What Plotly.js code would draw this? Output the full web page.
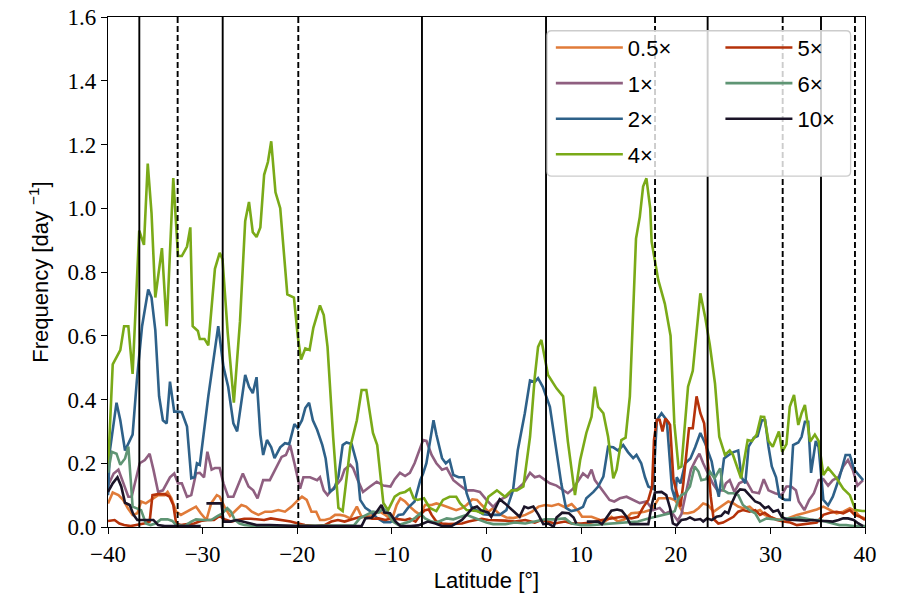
<!DOCTYPE html>
<html>
<head>
<meta charset="utf-8">
<script src="https://cdn.plot.ly/plotly-3.0.1.min.js"></script>
<style>html,body{margin:0;padding:0;background:#fff}#chart{width:900px;height:600px}</style>
</head>
<body>
<div id="chart"></div>
<script>
// ---- data ----
const seriesNames = ["0.5\u00d7", "1\u00d7", "2\u00d7", "4\u00d7", "5\u00d7", "6\u00d7", "10\u00d7"];

const lat05 = [-40.0,-39.5,-38.9,-38.4,-37.9,-37.4,-36.9,-36.5,-36.0,-35.5,-34.7,-34.0,-33.7,-33.3,-32.8,-32.3,-31.7,-31.2,-30.7,-30.2,-29.6,-29.1,-28.5,-28.2,-27.7,-27.1,-26.6,-25.9,-25.4,-24.8,-24.1,-23.4,-22.7,-22.0,-21.3,-20.6,-19.9,-19.5,-19.0,-18.5,-18.0,-17.6,-17.1,-16.5,-16.0,-15.5,-15.0,-14.4,-13.7,-13.2,-12.7,-12.0,-11.3,-10.7,-10.0,-9.5,-9.1,-8.6,-8.1,-7.5,-7.0,-6.5,-5.8,-5.3,-4.7,-4.2,-3.7,-3.2,-2.6,-2.1,-1.5,-1.0,-0.5,0.2,0.7,1.4,2.1,2.8,3.5,4.1,4.8,5.5,6.2,6.9,7.6,8.3,9.0,9.7,10.1,11.1,12.0,12.5,13.2,13.9,14.6,15.3,16.0,16.7,17.5,18.2,18.9,19.4,19.9,20.4,20.8,21.3,21.9,22.4,22.9,23.4,24.0,24.5,25.0,25.55,26.1,26.6,27.1,27.8,28.4,28.9,29.4,30.0,30.7,31.4,32.1,32.8,33.5,34.2,34.9,35.6,36.3,37.0,37.7,38.4,38.9,39.5,40.0];
const freq05 = [0.074,0.108,0.1,0.085,0.059,0.038,0.043,0.08,0.074,0.085,0.1,0.1,0.11,0.09,0.048,0.038,0.048,0.055,0.064,0.043,0.022,0.074,0.1,0.095,0.064,0.035,0.048,0.069,0.064,0.048,0.038,0.048,0.048,0.053,0.048,0.064,0.085,0.095,0.085,0.048,0.048,0.022,0.022,0.027,0.038,0.038,0.035,0.027,0.064,0.032,0.032,0.038,0.048,0.038,0.022,0.069,0.09,0.08,0.064,0.048,0.038,0.069,0.069,0.074,0.069,0.064,0.059,0.053,0.059,0.069,0.087,0.085,0.069,0.048,0.059,0.04,0.03,0.028,0.032,0.038,0.048,0.064,0.069,0.066,0.072,0.062,0.072,0.05,0.032,0.032,0.022,0.017,0.032,0.017,0.024,0.043,0.045,0.048,0.055,0.09,0.09,0.09,0.085,0.064,0.043,0.043,0.048,0.059,0.074,0.069,0.048,0.059,0.069,0.08,0.074,0.064,0.059,0.064,0.048,0.053,0.038,0.032,0.024,0.022,0.03,0.038,0.043,0.048,0.055,0.064,0.053,0.043,0.048,0.059,0.051,0.032,0.027];

const lat1 = [-40.0,-39.4,-38.9,-38.4,-37.85,-37.5,-37.15,-36.65,-36.1,-35.6,-35.2,-34.7,-34.2,-33.45,-33.0,-32.6,-32.2,-31.65,-31.2,-30.7,-30.3,-29.85,-29.5,-29.05,-28.7,-28.2,-27.8,-27.3,-26.75,-26.2,-25.75,-25.15,-24.65,-24.2,-23.6,-22.9,-22.35,-21.65,-21.2,-20.75,-20.3,-19.7,-19.35,-18.65,-17.9,-17.6,-17.2,-16.8,-16.4,-15.9,-15.35,-15.0,-14.4,-14.1,-13.6,-13.05,-12.3,-11.6,-10.9,-10.15,-9.7,-9.15,-8.6,-8.1,-7.6,-7.0,-6.7,-6.35,-5.8,-5.3,-4.7,-4.2,-3.5,-2.8,-2.1,-1.4,-0.7,0.0,0.7,1.4,2.1,2.8,3.3,3.9,4.6,5.1,5.6,6.2,6.7,7.4,8.1,8.6,9.15,9.7,10.2,10.7,11.1,11.45,11.95,12.5,13.0,13.5,14.1,14.8,15.5,16.2,16.9,17.6,18.3,18.85,19.5,20.2,20.6,21.1,21.6,22.1,22.5,22.9,23.4,23.9,24.4,25.0,25.3,25.7,26.2,26.7,27.4,28.1,28.8,29.3,29.8,30.5,31.2,31.7,32.2,32.7,33.0,33.6,34.1,34.6,35.1,35.6,36.1,36.6,37.2,37.7,38.2,38.7,39.2,39.8];
const freq1 = [0.13,0.168,0.18,0.14,0.095,0.095,0.14,0.2,0.21,0.23,0.18,0.11,0.115,0.156,0.168,0.137,0.137,0.095,0.1,0.168,0.17,0.156,0.236,0.18,0.185,0.185,0.137,0.095,0.095,0.137,0.168,0.127,0.115,0.09,0.147,0.147,0.18,0.22,0.226,0.257,0.2,0.12,0.156,0.156,0.147,0.156,0.115,0.1,0.115,0.13,0.15,0.18,0.195,0.185,0.147,0.11,0.127,0.142,0.13,0.127,0.15,0.17,0.16,0.17,0.2,0.25,0.273,0.27,0.226,0.2,0.18,0.185,0.147,0.13,0.115,0.115,0.11,0.085,0.063,0.085,0.095,0.115,0.12,0.137,0.17,0.156,0.16,0.147,0.137,0.13,0.115,0.106,0.12,0.147,0.168,0.156,0.18,0.147,0.127,0.106,0.085,0.08,0.09,0.095,0.085,0.075,0.08,0.053,0.06,0.042,0.05,0.02,0.04,0.115,0.18,0.21,0.23,0.2,0.168,0.137,0.115,0.115,0.137,0.147,0.11,0.137,0.147,0.11,0.106,0.15,0.115,0.106,0.1,0.127,0.127,0.115,0.08,0.053,0.085,0.106,0.147,0.15,0.13,0.147,0.156,0.19,0.21,0.18,0.13,0.147];

const lat2 = [-40.0,-39.8,-39.1,-38.7,-38.2,-37.85,-37.4,-36.95,-36.4,-35.75,-35.4,-35.0,-34.6,-34.2,-33.8,-33.45,-33.0,-32.6,-32.2,-31.65,-31.2,-30.85,-30.6,-30.3,-29.4,-28.35,-27.8,-27.3,-26.75,-26.35,-25.5,-25.1,-24.7,-24.3,-23.9,-23.6,-23.2,-22.75,-22.4,-21.8,-21.3,-20.85,-20.3,-19.95,-19.5,-19.15,-18.75,-18.35,-17.9,-17.35,-17.0,-16.55,-16.1,-15.65,-15.2,-14.8,-14.25,-13.7,-13.35,-12.8,-12.3,-11.55,-10.85,-10.15,-9.7,-9.3,-8.8,-8.3,-7.6,-7.0,-6.7,-6.35,-6.0,-5.6,-5.3,-4.7,-4.3,-3.9,-3.5,-2.95,-2.4,-2.1,-1.6,-1.05,-0.35,0.35,1.4,2.1,2.8,3.3,4.05,4.6,5.1,5.45,5.95,6.7,7.2,7.9,8.4,8.95,9.5,10.2,10.55,11.3,11.8,12.35,12.85,13.4,13.9,14.45,14.95,15.5,15.85,16.35,16.75,17.1,17.6,18.0,18.5,19.05,19.6,19.95,20.1,20.5,21.0,21.55,22.05,22.6,23.1,23.5,23.8,24.15,24.55,24.9,25.1,25.6,26.1,26.6,26.95,27.35,27.7,28.25,28.65,29.1,29.45,29.8,30.15,30.6,30.95,31.55,32.05,32.4,32.95,33.3,33.65,34.0,34.3,34.8,35.1,35.6,36.1,36.6,37.3,37.95,38.4,38.85,39.3,39.8];
const freq2 = [0.1,0.24,0.39,0.335,0.24,0.263,0.29,0.46,0.63,0.745,0.72,0.618,0.41,0.335,0.325,0.456,0.362,0.362,0.36,0.315,0.153,0.156,0.2,0.195,0.41,0.63,0.503,0.44,0.325,0.3,0.477,0.44,0.42,0.47,0.29,0.226,0.273,0.25,0.216,0.25,0.263,0.26,0.323,0.31,0.335,0.373,0.39,0.335,0.305,0.257,0.215,0.11,0.12,0.158,0.257,0.265,0.26,0.2,0.085,0.06,0.05,0.028,0.015,0.015,0.024,0.038,0.04,0.06,0.08,0.147,0.168,0.2,0.263,0.335,0.29,0.216,0.2,0.21,0.163,0.156,0.156,0.106,0.063,0.053,0.04,0.038,0.038,0.053,0.115,0.24,0.357,0.46,0.455,0.467,0.44,0.377,0.273,0.137,0.06,0.05,0.053,0.063,0.09,0.11,0.127,0.158,0.252,0.25,0.24,0.257,0.235,0.216,0.226,0.2,0.156,0.127,0.12,0.335,0.357,0.335,0.12,0.085,0.156,0.137,0.2,0.215,0.25,0.295,0.263,0.226,0.205,0.147,0.095,0.17,0.215,0.226,0.235,0.24,0.156,0.137,0.252,0.28,0.285,0.335,0.335,0.252,0.19,0.156,0.095,0.085,0.085,0.257,0.265,0.283,0.33,0.33,0.17,0.27,0.25,0.085,0.068,0.095,0.156,0.226,0.226,0.18,0.163,0.147];

const lat4 = [-40.0,-39.5,-38.7,-38.3,-37.85,-37.4,-36.7,-36.2,-35.8,-35.4,-35.0,-34.3,-33.8,-33.1,-32.6,-32.2,-31.65,-31.3,-31.05,-30.5,-30.3,-29.8,-29.4,-28.7,-28.2,-27.9,-27.35,-26.7,-26.05,-25.5,-25.1,-24.7,-24.3,-23.9,-23.5,-23.1,-22.75,-22.3,-21.8,-21.05,-20.35,-19.95,-19.6,-19.15,-18.7,-18.3,-17.6,-17.2,-16.8,-16.2,-15.65,-15.2,-14.4,-13.7,-13.2,-12.7,-12.0,-11.55,-10.9,-10.4,-9.7,-9.15,-8.6,-8.1,-7.7,-7.3,-6.6,-6.0,-5.3,-4.6,-3.9,-3.2,-2.8,-2.1,-1.05,-0.4,0.2,1.1,1.95,2.65,3.2,3.9,4.6,5.1,5.45,5.8,6.5,7.4,8.1,8.6,9.35,9.9,10.55,11.1,11.45,11.8,12.35,12.85,13.4,13.75,14.25,14.7,15.15,15.8,16.2,16.55,16.9,17.3,17.45,17.8,18.15,18.85,19.45,19.85,20.3,20.6,21.3,21.8,22.2,22.6,23.1,23.6,24.15,24.6,25.2,25.7,26.05,26.9,27.6,28.05,28.55,29.0,29.35,29.8,30.25,30.9,31.25,31.7,32.05,32.5,32.95,33.3,33.65,34.2,34.7,35.1,35.6,36.1,37.0,37.7,38.4,39.0,39.7,40.0];
const freq4 = [0.18,0.51,0.555,0.63,0.63,0.48,0.93,0.885,1.14,0.985,0.72,0.875,0.63,1.095,0.85,0.85,0.88,0.94,0.63,0.615,0.59,0.59,0.57,0.81,0.86,0.84,0.61,0.39,0.645,0.96,1.02,0.925,0.91,0.94,1.105,1.145,1.21,1.05,1.0,0.73,0.72,0.6,0.525,0.56,0.555,0.625,0.695,0.665,0.565,0.28,0.06,0.05,0.25,0.335,0.43,0.43,0.295,0.257,0.075,0.053,0.095,0.106,0.11,0.12,0.09,0.085,0.09,0.06,0.05,0.085,0.095,0.095,0.075,0.053,0.05,0.043,0.095,0.115,0.095,0.115,0.115,0.127,0.283,0.47,0.565,0.587,0.477,0.435,0.41,0.268,0.1,0.21,0.295,0.346,0.44,0.377,0.357,0.283,0.153,0.18,0.273,0.28,0.41,0.905,0.973,1.068,1.094,1.0,0.895,0.83,0.775,0.7,0.6,0.325,0.185,0.19,0.44,0.49,0.618,0.733,0.66,0.571,0.45,0.283,0.226,0.24,0.226,0.153,0.273,0.27,0.29,0.346,0.345,0.27,0.252,0.3,0.236,0.26,0.377,0.414,0.32,0.357,0.383,0.268,0.29,0.27,0.163,0.185,0.153,0.12,0.1,0.053,0.05,0.05];

const lat5 = [-40.0,-39.3,-38.8,-38.3,-37.6,-36.9,-36.2,-35.6,-35.3,-34.7,-34.0,-33.5,-33.1,-32.8,-32.3,-31.6,-30.9,-30.2,-29.5,-28.8,-28.2,-27.7,-27.0,-26.3,-25.6,-24.9,-24.2,-23.5,-22.8,-22.1,-21.4,-20.7,-19.9,-19.2,-18.1,-17.1,-16.4,-15.7,-15.0,-14.3,-13.6,-12.9,-12.1,-11.4,-10.7,-10.0,-9.3,-8.6,-8.1,-7.5,-7.0,-6.5,-6.1,-5.8,-5.3,-4.7,-4.0,-3.3,-2.6,-1.9,-1.2,-0.5,0.2,0.9,2.0,3.0,4.1,5.1,5.8,6.5,7.2,8.3,9.0,10.0,11.1,12.2,13.2,14.3,15.3,16.0,16.6,17.1,17.5,17.7,18.0,18.3,18.6,18.9,19.2,19.4,19.75,20.1,20.5,20.8,21.4,21.8,22.2,22.6,23.0,23.4,23.7,24.0,24.5,25.0,25.55,26.1,26.6,27.1,27.8,28.4,28.9,29.4,30.0,30.7,31.4,32.1,32.8,33.5,34.2,34.9,35.6,36.3,37.0,37.7,38.4,38.9,39.5,40.0];
const freq5 = [0.019,0.022,0.011,0.006,0.003,0.006,0.011,0.017,0.1,0.103,0.103,0.095,0.069,0.011,0.006,0.009,0.011,0.019,0.022,0.022,0.035,0.024,0.017,0.022,0.026,0.026,0.024,0.022,0.027,0.024,0.022,0.017,0.011,0.006,0.003,0.006,0.017,0.022,0.017,0.024,0.03,0.032,0.026,0.027,0.022,0.027,0.024,0.022,0.026,0.017,0.038,0.053,0.055,0.038,0.017,0.011,0.009,0.011,0.011,0.017,0.022,0.026,0.022,0.022,0.02,0.017,0.022,0.014,0.022,0.017,0.011,0.017,0.011,0.011,0.014,0.022,0.027,0.032,0.027,0.032,0.064,0.085,0.127,0.273,0.336,0.336,0.3,0.34,0.33,0.32,0.15,0.106,0.064,0.137,0.31,0.31,0.41,0.357,0.325,0.2,0.095,0.025,0.011,0.014,0.022,0.032,0.048,0.053,0.048,0.053,0.038,0.045,0.032,0.022,0.017,0.014,0.006,0.009,0.011,0.014,0.038,0.045,0.048,0.043,0.053,0.038,0.032,0.022];

const lat6 = [-40.0,-39.6,-39.1,-38.7,-38.2,-37.85,-37.4,-36.5,-36.0,-35.5,-35.0,-34.4,-33.7,-33.2,-32.8,-31.9,-31.2,-30.7,-29.8,-29.1,-28.4,-27.9,-27.4,-27.0,-26.6,-26.1,-25.6,-24.5,-22.0,-19.0,-16.0,-14.0,-13.4,-12.7,-12.0,-11.4,-10.9,-10.4,-9.9,-9.3,-8.6,-8.1,-7.5,-7.0,-6.5,-5.8,-5.3,-4.7,-4.2,-3.5,-2.8,-2.1,-1.4,-0.7,0.0,0.7,2.0,3.0,4.1,5.1,6.2,7.2,8.3,9.0,10.0,11.0,12.2,13.2,14.6,16.0,17.1,17.8,18.5,19.4,19.9,20.3,20.6,21.0,21.5,22.0,22.4,22.7,23.2,23.6,24.1,24.7,25.0,25.55,26.1,26.6,27.1,27.8,28.4,28.9,29.6,30.3,31.0,31.7,32.4,33.1,33.8,34.5,35.2,36.0,36.6,37.3,38.0,38.8,40.0];
const freq6 = [0.17,0.236,0.23,0.195,0.215,0.252,0.064,0.053,0.011,0.006,0.011,0.024,0.024,0.019,0.006,0.003,0.017,0.024,0.022,0.022,0.035,0.043,0.059,0.048,0.022,0.011,0.006,0.003,0.003,0.003,0.003,0.005,0.027,0.038,0.048,0.045,0.059,0.043,0.017,0.006,0.011,0.017,0.03,0.043,0.027,0.017,0.014,0.022,0.027,0.024,0.032,0.038,0.03,0.022,0.014,0.009,0.009,0.014,0.011,0.017,0.024,0.024,0.027,0.011,0.006,0.006,0.009,0.011,0.014,0.017,0.027,0.032,0.038,0.043,0.05,0.09,0.1,0.106,0.127,0.19,0.174,0.147,0.15,0.174,0.153,0.184,0.116,0.106,0.106,0.1,0.069,0.053,0.043,0.017,0.027,0.024,0.022,0.027,0.027,0.03,0.027,0.022,0.022,0.017,0.011,0.006,0.006,0.003,0.003];

const lat10 = [-40.0,-39.5,-39.0,-38.6,-38.2,-37.7,-37.3,-36.9,-36.3,-35.8,-35.2,-34.7,-34.0,-32.0,-30.2,-29.9,-29.6,-28.0,-27.8,-27.1,-26.4,-25.7,-25.0,-24.3,-22.9,-20.0,-17.0,-14.0,-13.2,-12.8,-12.1,-11.6,-11.1,-10.8,-10.2,-9.6,-9.1,-8.0,-7.2,-6.7,-6.2,-5.4,-4.7,-3.7,-2.6,-2.1,-1.5,-1.0,-0.6,-0.1,0.2,0.5,0.9,1.4,1.95,2.5,3.0,3.5,4.0,4.4,4.95,5.5,6.0,6.5,7.1,7.4,8.0,8.7,9.2,9.5,10.0,10.6,11.8,12.2,12.7,13.2,13.8,14.3,14.8,15.2,16.0,17.1,17.5,17.8,18.5,19.0,19.4,19.7,20.1,20.6,21.1,21.5,22.0,22.6,22.9,23.3,23.8,24.3,24.8,25.2,25.55,25.9,26.4,26.8,27.3,27.8,28.4,28.9,29.4,29.8,30.3,30.8,31.2,31.7,32.4,33.1,33.8,34.5,35.2,35.9,36.6,37.2,37.7,38.2,38.8,39.3,39.8];
const freq10 = [0.11,0.137,0.156,0.127,0.076,0.069,0.038,0.022,0.022,0.022,0.022,0.006,0.003,0.003,0.003,null,0.074,0.074,0.017,0.017,0.022,0.017,0.011,0.006,0.006,0.003,0.003,0.003,0.003,0.027,0.03,0.048,0.069,0.045,0.043,0.017,0.003,0.003,0.005,0.011,0.017,0.011,0.003,0.003,0.022,0.038,0.059,0.064,0.053,0.048,0.045,0.032,0.059,0.087,0.074,0.059,0.045,0.032,0.064,0.059,0.064,0.038,0.009,0.011,0.001,0.03,0.045,0.043,0.03,0.011,null,0.017,0.017,0.009,0.032,0.051,0.055,0.051,0.032,0.009,0.009,0.009,0.074,0.108,0.11,0.1,0.059,0.011,0.005,0.022,0.024,0.03,0.022,0.025,0.017,0.027,0.022,0.032,0.035,0.048,0.043,0.074,0.106,0.118,0.116,0.1,0.08,0.074,0.059,0.064,0.048,0.053,0.032,0.024,0.022,0.02,0.02,0.022,0.019,0.019,0.017,0.022,0.027,0.027,0.022,0.011,0.003];

// boundary latitudes marked by vertical lines
const solidLats = [-36.69, -27.88, -6.82, 6.29, 23.37, 35.35];
const dashedLats = [-32.64, -19.89, 17.81, 31.30, 38.94];

const colors = ["#e07b39", "#8f5f80", "#2e6189", "#7aaa18", "#b5320a", "#5f9574", "#1b1428"];
const latList = [lat05, lat1, lat2, lat4, lat5, lat6, lat10];
const freqList = [freq05, freq1, freq2, freq4, freq5, freq6, freq10];

const traces = seriesNames.map((name, i) => ({
  type: "scatter",
  mode: "lines",
  name: name,
  x: latList[i],
  y: freqList[i],
  line: {color: colors[i], width: 2.6},
  legend: i < 4 ? "legend" : "legend2",
  legendgroup: "g" + i,
  hoverinfo: "x+y+name"
}));

const shapes = [];
solidLats.forEach(v => shapes.push({type: "line", xref: "x", yref: "paper", x0: v, x1: v, y0: 0, y1: 1, layer: "above", line: {color: "#000", width: 1.9}}));
dashedLats.forEach(v => shapes.push({type: "line", xref: "x", yref: "paper", x0: v, x1: v, y0: 0, y1: 1, layer: "above", line: {color: "#000", width: 1.9, dash: "6px,3px"}}));

// legend frame with rounded corners (paper coordinates), drawn over data and boundary lines
const fx0 = 0.580, fx1 = 0.981, fy0 = 0.688, fy1 = 0.973, rx = 0.006, ry = 0.009;
const framePath = "M" + (fx0 + rx) + "," + fy1 + " L" + (fx1 - rx) + "," + fy1 +
  " Q" + fx1 + "," + fy1 + " " + fx1 + "," + (fy1 - ry) + " L" + fx1 + "," + (fy0 + ry) +
  " Q" + fx1 + "," + fy0 + " " + (fx1 - rx) + "," + fy0 + " L" + (fx0 + rx) + "," + fy0 +
  " Q" + fx0 + "," + fy0 + " " + fx0 + "," + (fy0 + ry) + " L" + fx0 + "," + (fy1 - ry) +
  " Q" + fx0 + "," + fy1 + " " + (fx0 + rx) + "," + fy1 + " Z";
shapes.push({type: "path", xref: "paper", yref: "paper", path: framePath, layer: "above",
  fillcolor: "rgba(255,255,255,0.8)", line: {color: "#cccccc", width: 1.3}});

const sans = "Liberation Sans, Arial, sans-serif";
const serif = "Liberation Serif, Times New Roman, serif";

const legendCommon = {
  bgcolor: "rgba(0,0,0,0)", borderwidth: 0, font: {family: sans, size: 22, color: "#000"},
  xanchor: "left", yanchor: "top", tracegroupgap: 4, itemwidth: 67, itemclick: false, itemdoubleclick: false
};

const layout = {
  width: 900, height: 600,
  margin: {l: 108, r: 35, t: 17, b: 73},
  paper_bgcolor: "#fff", plot_bgcolor: "#fff",
  showlegend: true,
  xaxis: {
    range: [-40, 40], dtick: 10, tick0: 0, showgrid: false, zeroline: false,
    showline: true, mirror: true, linecolor: "#000", linewidth: 1.3,
    ticks: "outside", ticklen: 6, tickwidth: 1.3, tickcolor: "#000",
    tickfont: {family: serif, size: 23, color: "#000"},
    title: {text: "Latitude [\u00b0]", font: {family: sans, size: 22, color: "#000"}, standoff: 6}
  },
  yaxis: {
    range: [0, 1.6], dtick: 0.2, tick0: 0, tickformat: ".1f", showgrid: false, zeroline: false,
    showline: true, mirror: true, linecolor: "#000", linewidth: 1.3,
    ticks: "outside", ticklen: 6, tickwidth: 1.3, tickcolor: "#000",
    tickfont: {family: serif, size: 23, color: "#000"},
    title: {text: "Frequency [day <sup>\u22121</sup>]", font: {family: sans, size: 22, color: "#000"}, standoff: 12}
  },
  legend: Object.assign({x: 0.585, y: 0.981}, legendCommon),
  legend2: Object.assign({x: 0.809, y: 0.981}, legendCommon),
  shapes: shapes
};

Plotly.newPlot("chart", traces, layout, {displayModeBar: false});
</script>
</body>
</html>
